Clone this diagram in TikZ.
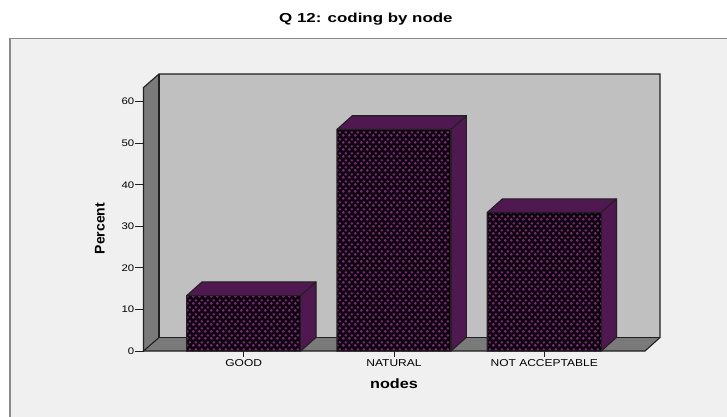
\documentclass[tikz,border=0pt]{standalone}
\usepackage{fontspec}
\setmainfont{Liberation Sans}
\newfontfamily\wf[FakeStretch=1.2]{Liberation Sans}
\newfontfamily\wft[FakeStretch=1.3]{Liberation Sans}
\usetikzlibrary{patterns}
\definecolor{wallback}{HTML}{C0C0C0}
\definecolor{walldark}{HTML}{7A7A7A}
\definecolor{panelbg}{HTML}{F0F0F0}
\definecolor{framegray}{HTML}{8A8A8A}
\definecolor{barside}{RGB}{80,24,80}
\definecolor{barplus}{RGB}{120,42,120}
\definecolor{barfront}{RGB}{14,2,14}
\definecolor{edgecol}{HTML}{202020}
\pgfdeclarepatternformonly{plusgrid}{\pgfpointorigin}{\pgfpoint{6pt}{7pt}}{\pgfpoint{6pt}{7pt}}{%
  \pgfsetlinewidth{1.3pt}%
  \pgfpathmoveto{\pgfpoint{0.1pt}{1.75pt}}\pgfpathlineto{\pgfpoint{2.9pt}{1.75pt}}%
  \pgfpathmoveto{\pgfpoint{1.5pt}{0.35pt}}\pgfpathlineto{\pgfpoint{1.5pt}{3.15pt}}%
  \pgfpathmoveto{\pgfpoint{3.1pt}{5.25pt}}\pgfpathlineto{\pgfpoint{5.9pt}{5.25pt}}%
  \pgfpathmoveto{\pgfpoint{4.5pt}{3.85pt}}\pgfpathlineto{\pgfpoint{4.5pt}{6.65pt}}%
  \pgfusepath{stroke}%
}
\newcommand\mybar[3]{% name, center, value
  \pgfmathsetmacro\xl{#2-57}%
  \pgfmathsetmacro\xr{#2+57}%
  \pgfmathsetmacro\yt{351-4.155*#3}%
  \fill[barside] (\xr,351) -- (\xr,\yt) -- (\xr+15.3,\yt-13.7) -- (\xr+15.3,337.3) -- cycle;
  \fill[barside] (\xl,\yt) -- (\xl+15.3,\yt-13.7) -- (\xr+15.3,\yt-13.7) -- (\xr,\yt) -- cycle;
  \fill[barfront] (\xl,\yt) rectangle (\xr,351);
  \fill[pattern=plusgrid, pattern color=barplus] (\xl,\yt) rectangle (\xr,351);
  \draw[edge] (\xl,351) -- (\xl,\yt) -- (\xl+15.3,\yt-13.7) -- (\xr+15.3,\yt-13.7) -- (\xr+15.3,337.3) -- (\xr,351) -- cycle;
  \draw[edge] (\xl,\yt) -- (\xr,\yt) -- (\xr+15.3,\yt-13.7);
  \draw[edge] (\xr,\yt) -- (\xr,351);
  \coordinate (#1) at (#2,351);
}
\tikzset{
  edge/.style={draw=edgecol, line width=1.1pt, line join=miter},
  ticklab/.style={font=\wf\fontsize{9.5}{11}\selectfont, text=black, anchor=east, inner sep=0pt},
  catlab/.style={font=\wf\fontsize{10}{12}\selectfont, text=black, inner sep=0pt},
}
\begin{document}
\begin{tikzpicture}[x=1pt,y=-1pt]
\useasboundingbox (0,0) rectangle (727,416);
\fill[white] (0,0) rectangle (727,416);
\fill[panelbg] (10,38.5) rectangle (728,417);
\draw[framegray, line width=1.5pt] (10,418) -- (10,38.5) -- (729,38.5);
\node[font=\wft\bfseries\fontsize{13}{15}\selectfont, inner sep=0pt, anchor=west] (title) at (279,19.5) {Q 12: coding by node};
% walls
\fill[wallback] (159,74) rectangle (660,337.5);
\fill[walldark] (143.5,351) -- (143.5,87.5) -- (159,74) -- (159,337.5) -- cycle;
\fill[walldark] (143.5,351) -- (159,337.5) -- (660,337.5) -- (645,351) -- cycle;
\draw[edge] (143.5,351) -- (143.5,87.5) -- (159,74) -- (660,74) -- (660,337.5) -- (645,351) -- cycle;
\draw[edge] (159,74) -- (159,337.5) -- (660,337.5);
\draw[edge] (143.5,351) -- (159,337.5);
% axis ticks
\foreach \v in {0,10,...,60}{
  \pgfmathsetmacro\yy{351-4.155*\v}
  \draw[edgecol, line width=1pt] (135,\yy) -- (143.5,\yy);
  \node[ticklab] (tick\v) at (134.5,\yy) {\v};
}
\node[font=\bfseries\fontsize{14}{16}\selectfont, rotate=90, inner sep=0pt] (ylab) at (100,228.5) {Percent};
% bars
\mybar{good}{243.7}{13.33}
\mybar{natural}{394}{53.33}
\mybar{notacc}{544.2}{33.33}
\foreach \c/\t in {good/GOOD, natural/NATURAL, notacc/NOT ACCEPTABLE}{
  \draw[edgecol, line width=1pt] (\c) -- ++(0,6);
  \node[catlab] (lab\c) at ([yshift=-12.5pt]\c) {\t};
}
\node[font=\wf\bfseries\fontsize{13.5}{16}\selectfont, inner sep=0pt] (xlab) at (394,384) {nodes};
\end{tikzpicture}
\end{document}
